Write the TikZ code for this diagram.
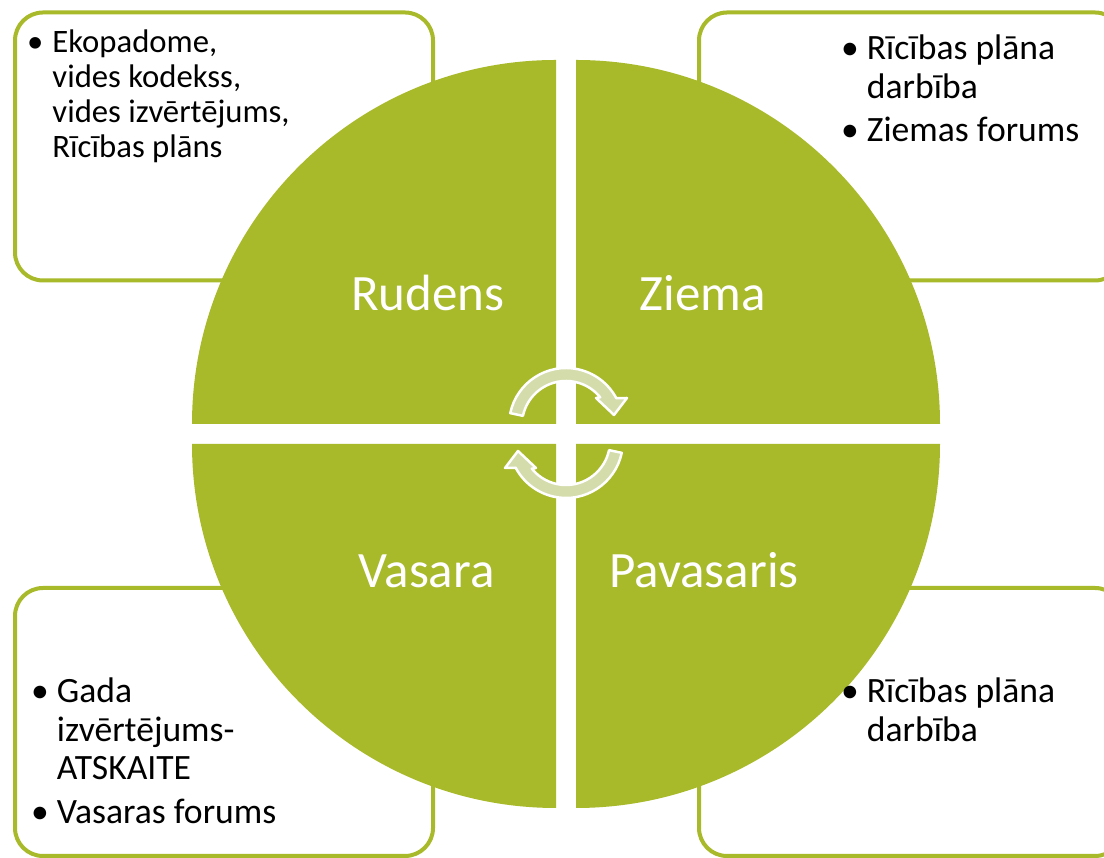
\documentclass[tikz,border=0pt]{standalone}
\usepackage{fontspec}
\setmainfont{Carlito}
\usepackage{tikz}
\newcommand*{\qRad}{364}
\newcommand*{\aOut}{57}
\newcommand*{\aIn}{44}
\usetikzlibrary{positioning}
\definecolor{leafgreen}{RGB}{168,185,41}
\definecolor{palegreen}{RGB}{212,220,172}
\tikzset{
  BoxStyle/.style={
    draw=leafgreen,
    line width=4pt,
    rounded corners=28pt,
    minimum width=418pt,
    minimum height=268pt,
    inner sep=0pt
  },
  QuarterStyle/.style={fill=leafgreen},
  SeasonStyle/.style={text=white, anchor=base, inner sep=0pt,
    font=\fontsize{51}{60}\selectfont},
  ListStyle/.style={anchor=base west, inner sep=0pt, align=left},
  ArrowStyle/.style={fill=palegreen, draw=white, line width=2.5pt, line join=round}
}

\begin{document}
\begin{tikzpicture}[x=1pt,y=1pt]
    \useasboundingbox (0,0) rectangle (1104,858);

    % text boxes behind the circle
    \node[BoxStyle] (autumnBox) at (224,711.5) {};
    \node[BoxStyle, minimum width=424pt] (winterBox) at (911,711.5) {};
    \node[BoxStyle] (summerBox) at (224,136) {};
    \node[BoxStyle, minimum width=424pt] (springBox) at (911,136) {};

    % four quarters of the circle
    \fill[QuarterStyle] (556,434) -- ++(-\qRad,0) arc[start angle=180, end angle=90, radius=\qRad pt] -- cycle;
    \fill[QuarterStyle] (576,434) -- ++(0,\qRad) arc[start angle=90, end angle=0, radius=\qRad pt] -- cycle;
    \fill[QuarterStyle] (556,414) -- ++(-\qRad,0) arc[start angle=180, end angle=270, radius=\qRad pt] -- cycle;
    \fill[QuarterStyle] (576,414) -- ++(0,-\qRad) arc[start angle=270, end angle=360, radius=\qRad pt] -- cycle;

    \node[SeasonStyle] (autumn) at (428,547) {Rudens};
    \node[SeasonStyle] (winter) at (703,547) {Ziema};
    \node[SeasonStyle] (summer) at (426.5,270) {Vasara};
    \node[SeasonStyle] (spring) at (704,270) {Pavasaris};

    % circular arrows
    \begin{scope}[shift={(566,433)}]
        \draw[ArrowStyle] (168:\aOut) arc[start angle=168, end angle=28, radius=\aOut pt]
            -- (61,27) -- (48,10) -- (30,27) -- (39:\aIn)
            arc[start angle=39, end angle=168, radius=\aIn pt] -- cycle;
    \end{scope}
    \begin{scope}[shift={(566,417)}, rotate=180]
        \draw[ArrowStyle] (168:\aOut) arc[start angle=168, end angle=28, radius=\aOut pt]
            -- (61,27) -- (48,10) -- (30,27) -- (39:\aIn)
            arc[start angle=39, end angle=168, radius=\aIn pt] -- cycle;
    \end{scope}

    % lists
    \node[ListStyle, font=\fontsize{32.7}{35}\selectfont] (autumnList) at (27,805)
        {\begin{tabular}[t]{@{}l@{\hspace{9pt}}l@{}}
         \textbullet & Ekopadome,\\
                     & vides kodekss,\\
                     & vides izvērtējums,\\
                     & Rīcības plāns
         \end{tabular}};
    \node[ListStyle, font=\fontsize{35.6}{38.5}\selectfont] (winterList) at (841,798)
        {\begin{tabular}[t]{@{}l@{\hspace{8pt}}l@{}}
         \textbullet & Rīcības plāna\\
                     & darbība\\[5pt]
         \textbullet & Ziemas forums
         \end{tabular}};
    \node[ListStyle, font=\fontsize{35.6}{38.5}\selectfont] (summerList) at (31,155)
        {\begin{tabular}[t]{@{}l@{\hspace{8pt}}l@{}}
         \textbullet & Gada\\
                     & izvērtējums-\\
                     & ATSKAITE\\[5pt]
         \textbullet & Vasaras forums
         \end{tabular}};
    \node[ListStyle, font=\fontsize{35.6}{38.5}\selectfont] (springList) at (841,155)
        {\begin{tabular}[t]{@{}l@{\hspace{8pt}}l@{}}
         \textbullet & Rīcības plāna\\
                     & darbība
         \end{tabular}};
\end{tikzpicture}
\end{document}
